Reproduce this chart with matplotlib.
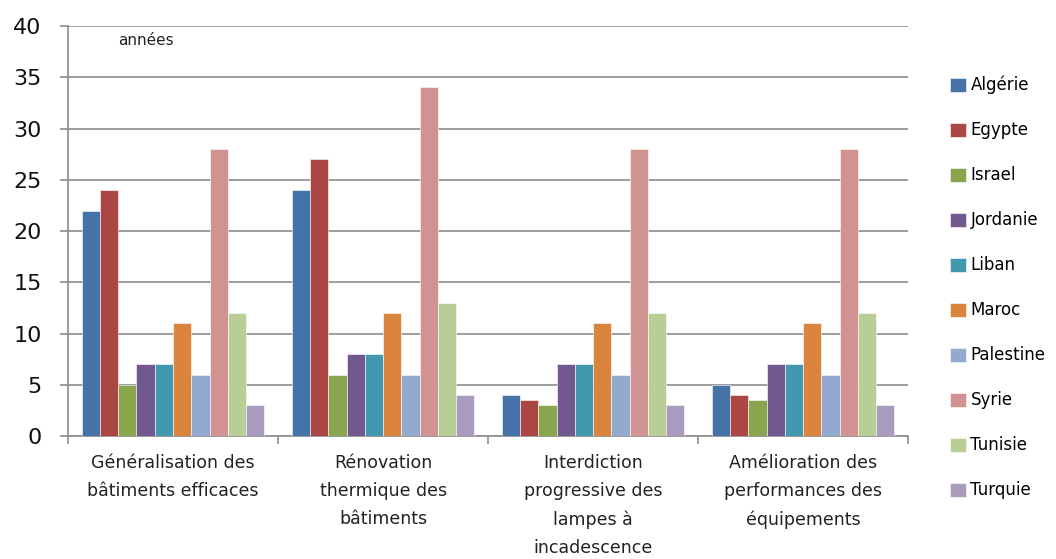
import numpy as np
import matplotlib
matplotlib.use("Agg")
from matplotlib import pyplot as plt

# mesures et pays
mesures = ["Généralisation des\nbâtiments efficaces",
           "Rénovation\nthermique des\nbâtiments",
           "Interdiction\nprogressive des\nlampes à\nincadescence",
           "Amélioration des\nperformances des\néquipements"]
pays = ["Algérie", "Egypte", "Israel", "Jordanie", "Liban",
        "Maroc", "Palestine", "Syrie", "Tunisie", "Turquie"]

# années, une liste par pays (une valeur par mesure)
algerie = [22, 24, 4, 5]
egypte = [24, 27, 3.5, 4]
israel = [5, 6, 3, 3.5]
jordanie = [7, 8, 7, 7]
liban = [7, 8, 7, 7]
maroc = [11, 12, 11, 11]
palestine = [6, 6, 6, 6]
syrie = [28, 34, 28, 28]
tunisie = [12, 13, 12, 12]
turquie = [3, 4, 3, 3]
series = [algerie, egypte, israel, jordanie, liban,
          maroc, palestine, syrie, tunisie, turquie]

couleurs = ["#4572A7", "#AA4643", "#89A54E", "#71588F", "#4198AF",
            "#DB843D", "#93A9CF", "#D19392", "#B9CD96", "#A99BBD"]

fig = plt.figure(figsize=(10.56, 5.59), dpi=100)
ax = fig.add_axes([0.0644, 0.22, 0.7956, 0.7335])

n = len(series)
w = 1 / (n + 1.5)
x = np.arange(len(mesures))
for i, (vals, c, nom) in enumerate(zip(series, couleurs, pays)):
    pos = x - 0.5 + 0.75 * w + (i + 0.5) * w
    ax.bar(pos, vals, width=w, color=c, label=nom,
           edgecolor="white", linewidth=0.4, zorder=3)

ax.set_xlim(-0.5, len(mesures) - 0.5)
ax.set_ylim(0, 40)
ax.set_yticks(np.arange(0, 41, 5))
ax.yaxis.grid(True, color="#8c8c8c", linewidth=1.2, zorder=0)
ax.set_axisbelow(True)

for s in ["top", "right"]:
    ax.spines[s].set_visible(False)
for s in ["left", "bottom"]:
    ax.spines[s].set_color("#8c8c8c")
    ax.spines[s].set_linewidth(1.2)

# ticks aux frontières des catégories, étiquettes au centre
ax.set_xticks(np.arange(-0.5, len(mesures)), minor=False)
ax.set_xticklabels([])
ax.set_xticks(x, minor=True)
ax.set_xticklabels(mesures, minor=True, fontsize=12.5, color="#222222",
                   linespacing=1.72, va="top")
ax.tick_params(axis="x", which="major", length=6, color="#8c8c8c", width=1.2)
ax.tick_params(axis="x", which="minor", length=0, pad=13)
ax.tick_params(axis="y", length=6, color="#8c8c8c", width=1.2,
               labelsize=16, pad=13, labelcolor="#111111")

ax.text(0.06, 0.965, "années", transform=ax.transAxes, fontsize=11,
        color="#222222", va="center")

ax.legend(loc="upper left", bbox_to_anchor=(0.885, 0.891),
          bbox_transform=fig.transFigure, frameon=False,
          fontsize=12, handlelength=1.0, handleheight=0.9,
          handletextpad=0.25, labelspacing=1.62)

fig.savefig("out.png", dpi=100)
